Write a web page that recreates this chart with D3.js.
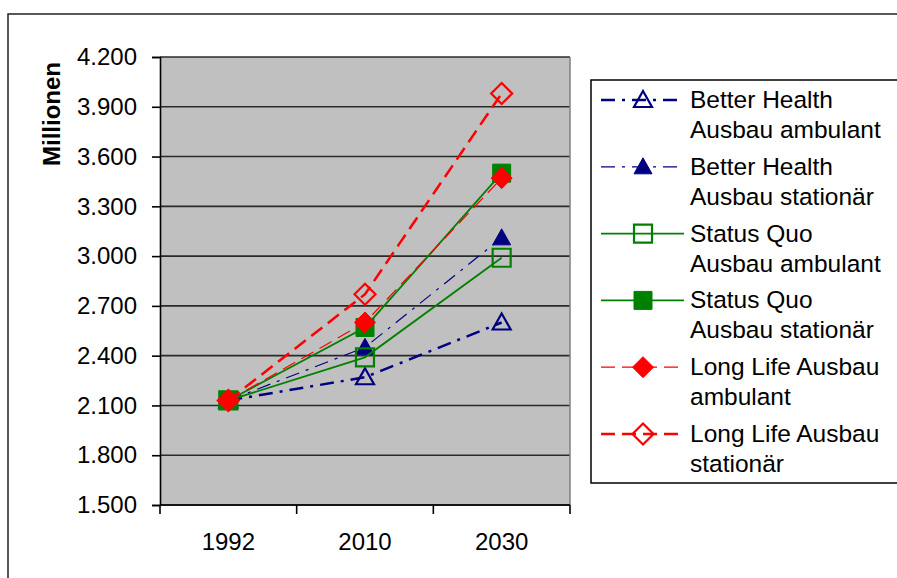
<!DOCTYPE html>
<html>
<head>
<meta charset="utf-8">
<script src="https://cdn.jsdelivr.net/npm/d3@7"></script>
<style>
  body { margin: 0; background: #fff; }
  text { font-family: "Liberation Sans", Arial, sans-serif; fill: #000; }
</style>
</head>
<body>
<svg id="chart" width="897" height="578"></svg>
<script>
// data (thousands, shown as "Millionen" with German separators)
var years = ["1992", "2010", "2030"];
var yTicks = [1500, 1800, 2100, 2400, 2700, 3000, 3300, 3600, 3900, 4200];

var bhAmbulant = [2130, 2270, 2600];
var bhStationaer = [2130, 2450, 3110];
var sqAmbulant = [2130, 2390, 2990];
var sqStationaer = [2130, 2570, 3500];
var llAmbulant = [2130, 2600, 3470];
var llStationaer = [2130, 2770, 3980];

var seriesNames = [
    ["Better Health", "Ausbau ambulant"],
    ["Better Health", "Ausbau stationär"],
    ["Status Quo", "Ausbau ambulant"],
    ["Status Quo", "Ausbau stationär"],
    ["Long Life Ausbau", "ambulant"],
    ["Long Life Ausbau", "stationär"]
];

var navy = "#000080", green = "#008000", red = "#ff0000";

// styling per series
var series = [
    {values: bhAmbulant, color: navy, width: 2.5, dash: "14,7,3,7", marker: "triangle", filled: false},
    {values: bhStationaer, color: navy, width: 1.2, dash: "14,7,3,7", marker: "triangle", filled: true},
    {values: sqAmbulant, color: green, width: 1.8, dash: null, marker: "square", filled: false},
    {values: sqStationaer, color: green, width: 1.8, dash: null, marker: "square", filled: true},
    {values: llAmbulant, color: red, width: 1.2, dash: "14,7", marker: "diamond", filled: true},
    {values: llStationaer, color: red, width: 2.5, dash: "14,7", marker: "diamond", filled: false}
];
series.forEach(function(s, i) { s.name = seriesNames[i]; });

var svg = d3.select("#chart");

var de = d3.formatLocale({decimal: ",", thousands: ".", grouping: [3], currency: ["", " €"]});
var fmt = de.format(",.0f");

// outer frame
svg.append("rect")
    .attr("x", 8).attr("y", 14)
    .attr("width", 920).attr("height", 620)
    .attr("fill", "#fff")
    .attr("stroke", "#222")
    .attr("stroke-width", 1.5);

var plot = {left: 160, right: 570, top: 57, bottom: 505};

var x = d3.scaleBand()
    .domain(years)
    .range([plot.left, plot.right]);

var y = d3.scaleLinear()
    .domain([1500, 4200])
    .range([plot.bottom, plot.top]);

// plot area
svg.append("rect")
    .attr("x", plot.left).attr("y", plot.top)
    .attr("width", plot.right - plot.left)
    .attr("height", plot.bottom - plot.top)
    .attr("fill", "#c0c0c0");

// grid lines
svg.selectAll("line.grid")
    .data(yTicks)
    .enter()
    .append("line")
    .attr("class", "grid")
    .attr("x1", plot.left).attr("x2", plot.right)
    .attr("y1", function(d) { return y(d); })
    .attr("y2", function(d) { return y(d); })
    .attr("stroke", "#2a2a2a")
    .attr("stroke-width", 1.6);

// right border of plot area
svg.append("line")
    .attr("x1", plot.right).attr("x2", plot.right)
    .attr("y1", plot.top).attr("y2", plot.bottom)
    .attr("stroke", "#808080")
    .attr("stroke-width", 1.5);

// y axis
var yAxis = d3.axisLeft(y)
    .tickValues(yTicks)
    .tickFormat(fmt)
    .tickSize(8)
    .tickPadding(15);

var gy = svg.append("g")
    .attr("transform", "translate(" + plot.left + ",0)")
    .call(yAxis);
gy.select(".domain").attr("stroke", "#000").attr("stroke-width", 1.6);
gy.selectAll(".tick line").attr("stroke", "#000").attr("stroke-width", 1.6);
gy.selectAll("text").style("font-size", "24px").attr("fill", "#000");

// x axis: ticks between categories, labels centred
var gx = svg.append("g")
    .attr("transform", "translate(0," + plot.bottom + ")");
gx.append("line")
    .attr("x1", plot.left).attr("x2", plot.right)
    .attr("stroke", "#000").attr("stroke-width", 1.6);
var edges = years.map(function(d) { return x(d); }).concat([x.range()[1]]);
gx.selectAll("line.tk")
    .data(edges)
    .enter()
    .append("line")
    .attr("class", "tk")
    .attr("x1", function(d) { return d; })
    .attr("x2", function(d) { return d; })
    .attr("y1", 0).attr("y2", 9)
    .attr("stroke", "#000").attr("stroke-width", 1.6);
gx.selectAll("text")
    .data(years)
    .enter()
    .append("text")
    .attr("x", function(d) { return x(d) + x.bandwidth() / 2; })
    .attr("y", 45)
    .attr("text-anchor", "middle")
    .style("font-size", "24px")
    .text(function(d) { return d; });

// y title
svg.append("text")
    .attr("transform", "translate(60,114) rotate(-90)")
    .attr("text-anchor", "middle")
    .style("font-size", "24px")
    .style("font-weight", "bold")
    .text("Millionen");

// marker shapes
function markerPath(type) {
    if (type == "triangle") return "M0,-9L9,7L-9,7Z";
    if (type == "square") return "M-9,-9H9V9H-9Z";
    return "M0,-10.5L10.5,0L0,10.5L-10.5,0Z";
}

function drawMarker(g, s, cx, cy) {
    g.append("path")
        .attr("d", markerPath(s.marker))
        .attr("transform", "translate(" + cx + "," + cy + ")")
        .attr("fill", s.filled ? s.color : "none")
        .attr("stroke", s.color)
        .attr("stroke-width", s.filled ? 1 : 2.2);
}

var line = d3.line()
    .x(function(d, i) { return x(years[i]) + x.bandwidth() / 2; })
    .y(function(d) { return y(d); });

series.forEach(function(s) {
    var g = svg.append("g");
    g.append("path")
        .attr("d", line(s.values))
        .attr("fill", "none")
        .attr("stroke", s.color)
        .attr("stroke-width", s.width)
        .attr("stroke-dasharray", s.dash);
    s.values.forEach(function(v, i) {
        drawMarker(g, s, x(years[i]) + x.bandwidth() / 2, y(v));
    });
});

// legend
var legend = svg.append("g");
legend.append("rect")
    .attr("x", 591).attr("y", 80)
    .attr("width", 330).attr("height", 403)
    .attr("fill", "#fff")
    .attr("stroke", "#000")
    .attr("stroke-width", 1.5);

series.forEach(function(s, i) {
    var ly = 100 + i * 66.8;
    var g = legend.append("g");
    g.append("line")
        .attr("x1", 601).attr("x2", 684)
        .attr("y1", ly).attr("y2", ly)
        .attr("stroke", s.color)
        .attr("stroke-width", s.width)
        .attr("stroke-dasharray", s.dash);
    drawMarker(g, s, 643, ly);
    g.append("text")
        .attr("x", 690).attr("y", ly + 8)
        .style("font-size", "24.5px")
        .text(s.name[0]);
    g.append("text")
        .attr("x", 690).attr("y", ly + 38)
        .style("font-size", "24.5px")
        .text(s.name[1]);
});
</script>
</body>
</html>
